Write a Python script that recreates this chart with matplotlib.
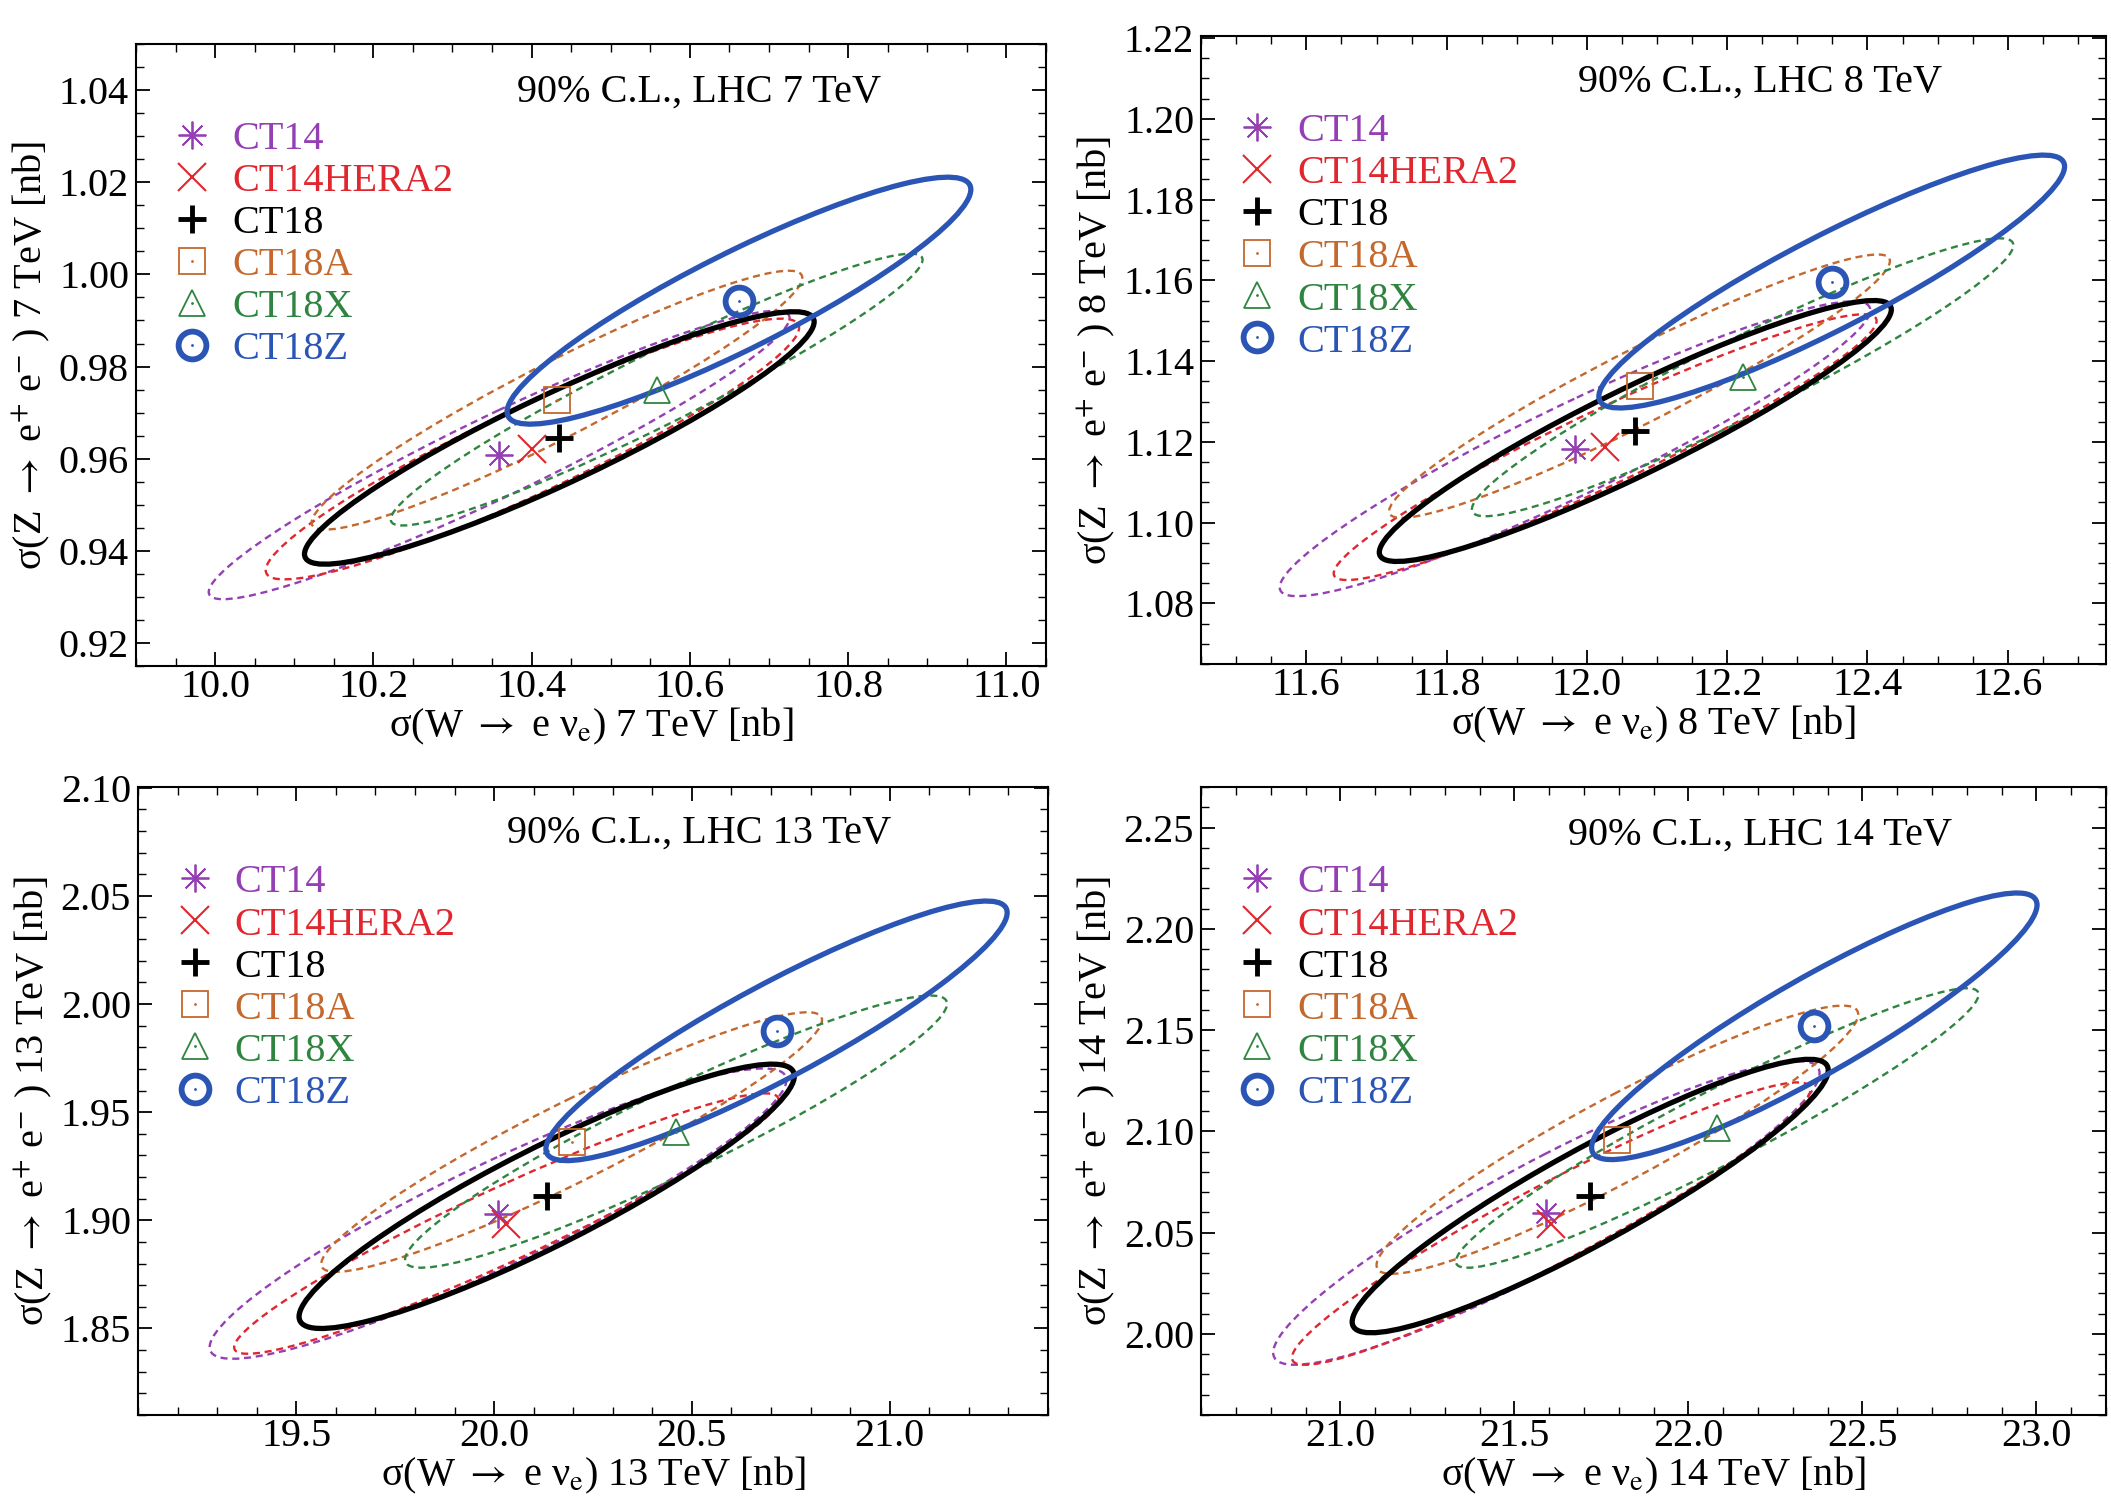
import numpy as np
import matplotlib
matplotlib.use('Agg')
import matplotlib.pyplot as plt
from matplotlib.patches import Ellipse
from matplotlib.lines import Line2D
from matplotlib.ticker import MultipleLocator, FormatStrFormatter

plt.rcParams['font.family'] = ['Liberation Serif', 'DejaVu Serif']
plt.rcParams['mathtext.fontset'] = 'stix'
plt.rcParams['font.size'] = 29

sets = ['CT14', 'CT14HERA2', 'CT18', 'CT18A', 'CT18X', 'CT18Z']
colors = ['#9440B4', '#E0262E', '#000000', '#C4682E', '#2F8540', '#2B55B5']

# central values, half extents of the 90% C.L. ellipse and correlation
w7 = [10.359, 10.401, 10.435, 10.432, 10.558, 10.662]
z7 = [0.9608, 0.9621, 0.9645, 0.9727, 0.9750, 0.9943]
dw7 = [0.367, 0.337, 0.322, 0.310, 0.336, 0.293]
dz7 = [0.0313, 0.0283, 0.0274, 0.0281, 0.0295, 0.0268]
rho7 = [0.95, 0.93, 0.92, 0.945, 0.955, 0.90]

w8 = [11.983, 12.026, 12.069, 12.075, 12.222, 12.349]
z8 = [1.1183, 1.1187, 1.1227, 1.1338, 1.1360, 1.1597]
dw8 = [0.421, 0.387, 0.365, 0.357, 0.386, 0.332]
dz8 = [0.0365, 0.0329, 0.0323, 0.0326, 0.0344, 0.0313]
rho8 = [0.94, 0.95, 0.93, 0.95, 0.95, 0.91]

w13 = [20.010, 20.031, 20.133, 20.196, 20.460, 20.714]
z13 = [1.9031, 1.8985, 1.9111, 1.9362, 1.9410, 1.9876]
dw13 = [0.729, 0.688, 0.626, 0.633, 0.685, 0.583]
dz13 = [0.0671, 0.0602, 0.0611, 0.0600, 0.0629, 0.0600]
rho13 = [0.92, 0.95, 0.91, 0.94, 0.94, 0.91]

w14 = [21.592, 21.606, 21.718, 21.796, 22.083, 22.362]
z14 = [2.0598, 2.0545, 2.0681, 2.0959, 2.1017, 2.1519]
dw14 = [0.785, 0.745, 0.684, 0.692, 0.751, 0.640]
dz14 = [0.0750, 0.0697, 0.0675, 0.0662, 0.0690, 0.0658]
rho14 = [0.92, 0.95, 0.92, 0.935, 0.955, 0.91]

panels = [
    ('7', w7, z7, dw7, dz7, rho7, (9.9, 11.05), (0.915, 1.05), 0.2, 0.05, 0.02, 0.005,
     [0.0644, 0.5554, 0.4311, 0.4152], (0.419, 0.922)),
    ('8', w8, z8, dw8, dz8, rho8, (11.45, 12.74), (1.065, 1.2205), 0.2, 0.05, 0.02, 0.005,
     [0.569, 0.5567, 0.4286, 0.4193], (0.417, 0.926)),
    ('13', w13, z13, dw13, dz13, rho13, (19.1, 21.4), (1.81, 2.1003), 0.5, 0.1, 0.05, 0.01,
     [0.0654, 0.0554, 0.431, 0.4192], (0.405, 0.926)),
    ('14', w14, z14, dw14, dz14, rho14, (20.6, 23.2), (1.96, 2.27), 0.5, 0.1, 0.05, 0.01,
     [0.569, 0.0554, 0.4286, 0.4192], (0.406, 0.923)),
]

mk = [
    dict(marker=(8, 2, 0), ms=20, mew=1.3),
    dict(marker='x', ms=20, mew=1.5),
    dict(marker='+', ms=20, mew=3.5),
    dict(marker='s', ms=19, mew=1.3, mfc='none'),
    dict(marker='^', ms=19, mew=1.3, mfc='none'),
    dict(marker='o', ms=20, mew=4.2, mfc='none'),
]
has_dot = [False, False, False, True, True, True]
solid = [False, False, True, False, False, True]

fig = plt.figure(figsize=(21.11, 14.98), dpi=100)

for (E, w, z, dw, dz, rho, xl, yl, xmaj, xmin, ymaj, ymin, pos, tpos) in panels:
    ax = fig.add_axes(pos)
    order = [0, 1, 3, 4, 2, 5]
    for i in order:
        cov = np.array([[dw[i] ** 2, rho[i] * dw[i] * dz[i]],
                        [rho[i] * dw[i] * dz[i], dz[i] ** 2]])
        vals, vecs = np.linalg.eigh(cov)
        ang = np.degrees(np.arctan2(vecs[1, 1], vecs[0, 1]))
        if solid[i]:
            e = Ellipse((w[i], z[i]), 2 * np.sqrt(vals[1]), 2 * np.sqrt(vals[0]), angle=ang,
                        fill=False, ec=colors[i], lw=3.8, zorder=3)
        else:
            e = Ellipse((w[i], z[i]), 2 * np.sqrt(vals[1]), 2 * np.sqrt(vals[0]), angle=ang,
                        fill=False, ec=colors[i], lw=1.7, ls=(0, (3, 2)), zorder=2)
        ax.add_patch(e)

    handles = []
    for i in range(len(sets)):
        ax.plot([w[i]], [z[i]], ls='none', color=colors[i], zorder=5, **mk[i])
        h = Line2D([], [], ls='none', color=colors[i], **mk[i])
        if has_dot[i]:
            ax.plot([w[i]], [z[i]], ls='none', marker='.', ms=2, color=colors[i], zorder=6)
            h = (h, Line2D([], [], ls='none', marker='.', ms=2, color=colors[i]))
        handles.append(h)

    leg = ax.legend(handles, sets, loc='upper left', bbox_to_anchor=(0.040, 0.877),
                    frameon=False, borderpad=0, borderaxespad=0, handlelength=1.0,
                    handletextpad=0.5, labelspacing=0.12, fontsize=29)
    for t, c in zip(leg.get_texts(), colors):
        t.set_color(c)

    ax.text(tpos[0], tpos[1], '90%% C.L., LHC %s TeV' % E, transform=ax.transAxes,
            ha='left', va='center', fontsize=29)

    ax.set_xlim(*xl)
    ax.set_ylim(*yl)
    ax.xaxis.set_major_locator(MultipleLocator(xmaj))
    ax.xaxis.set_minor_locator(MultipleLocator(xmin))
    ax.yaxis.set_major_locator(MultipleLocator(ymaj))
    ax.yaxis.set_minor_locator(MultipleLocator(ymin))
    ax.xaxis.set_major_formatter(FormatStrFormatter('%.1f'))
    ax.yaxis.set_major_formatter(FormatStrFormatter('%.2f'))
    ax.tick_params(which='both', direction='in', top=True, right=True, labelsize=29)
    ax.tick_params(which='major', length=10, width=1.3)
    ax.tick_params(which='minor', length=5.5, width=1.0)
    ax.tick_params(axis='x', which='major', pad=2)
    ax.tick_params(axis='y', which='major', pad=5)
    for s in ax.spines.values():
        s.set_linewidth(1.5)

    ax.set_xlabel(r'σ(W $\rightarrow$ e ν$_{\rm e}$) %s TeV [nb]' % E, fontsize=29, labelpad=0)
    ax.set_ylabel(r'σ(Z $\rightarrow$ e$^{+}$ e$^{-}$ ) %s TeV [nb]' % E, fontsize=29, labelpad=5)

fig.savefig('out.png', dpi=100)
